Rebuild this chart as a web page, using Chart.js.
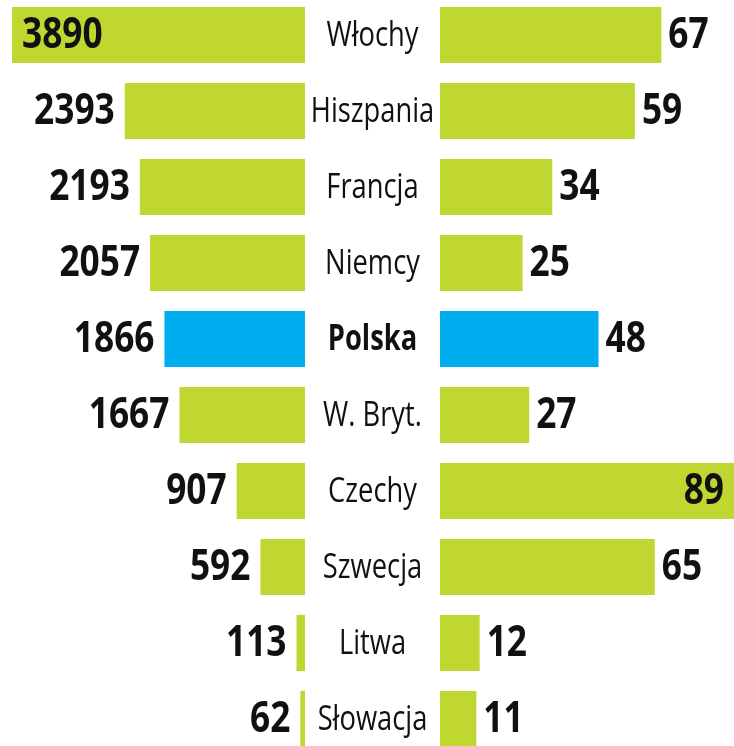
<!DOCTYPE html>
<html>
<head>
<meta charset="utf-8">
<script src="https://cdn.jsdelivr.net/npm/chart.js@4/dist/chart.umd.min.js"></script>
<style>
  html, body { margin:0; padding:0; background:#fff; overflow:hidden; }
  #wrap { position:relative; width:734px; height:746px; }
  #leftBox { position:absolute; left:0; top:-3px; width:440px; height:760px; }
  #rightBox { position:absolute; left:440px; top:-3px; width:294px; height:760px; }
</style>
</head>
<body>
<div id="wrap">
  <div id="leftBox"><canvas id="leftChart"></canvas></div>
  <div id="rightBox"><canvas id="rightChart"></canvas></div>
</div>
<script>
const categories = ['Włochy','Hiszpania','Francja','Niemcy','Polska','W. Bryt.','Czechy','Szwecja','Litwa','Słowacja'];
const leftValues = [3890, 2393, 2193, 2057, 1866, 1667, 907, 592, 113, 62];
const rightValues = [67, 59, 34, 25, 48, 27, 89, 65, 12, 11];
const highlight = 'Polska';

const GREEN = '#c0d731';
const BLUE = '#00aeef';
const TEXT = '#111111';
const FONT = '"Open Sans", "Noto Sans", sans-serif';
// no condensed font installed, so narrow the glyphs by hand
const SQUEEZE_VAL = 0.82;
const SQUEEZE_CAT = 0.78;

const colors = categories.map(c => c === highlight ? BLUE : GREEN);

function drawNarrow(ctx, txt, x, y, align, sx){
  ctx.save();
  ctx.translate(x, y);
  ctx.scale(sx, 1);
  ctx.textAlign = align;
  ctx.fillText(txt, 0, 0);
  ctx.restore();
}

// value labels next to the bar end, or inside the bar when there is no room
function valueLabels(side){
  return {
    id: 'valueLabels_' + side,
    afterDatasetsDraw(chart){
      const ctx = chart.ctx;
      const meta = chart.getDatasetMeta(0);
      const vals = chart.data.datasets[0].data;
      ctx.save();
      ctx.font = 'bold 43px ' + FONT;
      ctx.fillStyle = TEXT;
      ctx.textBaseline = 'middle';
      meta.data.forEach((bar, i) => {
        const txt = String(vals[i]);
        const w = ctx.measureText(txt).width * SQUEEZE_VAL;
        const y = bar.y + 1;
        if(side === 'left'){
          if(bar.x - 8 - w < 0) drawNarrow(ctx, txt, bar.x + 10, y, 'left', SQUEEZE_VAL);
          else drawNarrow(ctx, txt, bar.x - 10, y, 'right', SQUEEZE_VAL);
        } else {
          if(bar.x + 8 + w > chart.width) drawNarrow(ctx, txt, bar.x - 10, y, 'right', SQUEEZE_VAL);
          else drawNarrow(ctx, txt, bar.x + 7, y, 'left', SQUEEZE_VAL);
        }
      });
      ctx.restore();
    }
  };
}

// country names in the gap between the two charts
const categoryLabels = {
  id: 'categoryLabels',
  afterDatasetsDraw(chart){
    const ctx = chart.ctx;
    const meta = chart.getDatasetMeta(0);
    const cx = chart.chartArea.right + 67.5;
    ctx.save();
    ctx.fillStyle = TEXT;
    ctx.textBaseline = 'middle';
    meta.data.forEach((bar, i) => {
      const bold = categories[i] === highlight;
      ctx.font = (bold ? 'bold ' : '') + '35px ' + FONT;
      drawNarrow(ctx, categories[i], cx, bar.y + 1, 'center', SQUEEZE_CAT);
    });
    ctx.restore();
  }
};

new Chart(document.getElementById('leftChart'), {
  type: 'bar',
  data: {
    labels: categories,
    datasets: [{ data: leftValues, backgroundColor: colors, borderWidth: 0, barPercentage: 0.74, categoryPercentage: 1 }]
  },
  options: {
    indexAxis: 'y',
    responsive: true,
    maintainAspectRatio: false,
    animation: false,
    layout: { padding: { left: 12, right: 135, top: 0, bottom: 0 } },
    plugins: { legend: { display: false }, tooltip: { enabled: false } },
    scales: {
      x: { display: false, reverse: true, min: 0, max: 3890 },
      y: { display: false }
    }
  },
  plugins: [valueLabels('left'), categoryLabels]
});

new Chart(document.getElementById('rightChart'), {
  type: 'bar',
  data: {
    labels: categories,
    datasets: [{ data: rightValues, backgroundColor: colors, borderWidth: 0, barPercentage: 0.74, categoryPercentage: 1 }]
  },
  options: {
    indexAxis: 'y',
    responsive: true,
    maintainAspectRatio: false,
    animation: false,
    layout: { padding: 0 },
    plugins: { legend: { display: false }, tooltip: { enabled: false } },
    scales: {
      x: { display: false, min: 0, max: 89 },
      y: { display: false }
    }
  },
  plugins: [valueLabels('right')]
});
</script>
</body>
</html>
